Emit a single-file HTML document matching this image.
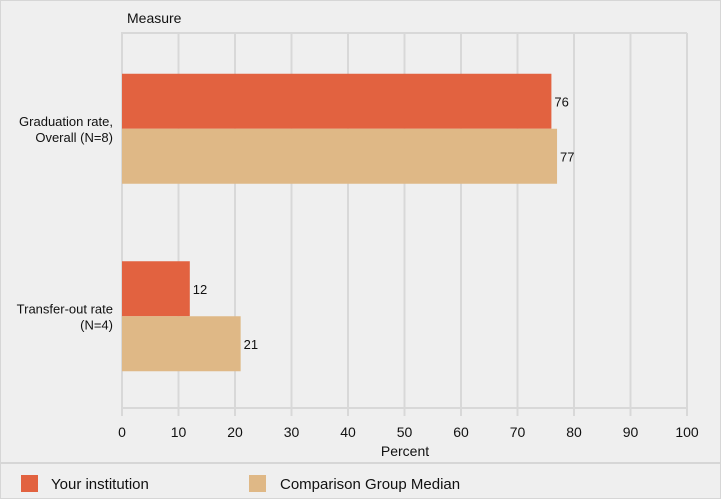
<!DOCTYPE html>
<html><head><meta charset="utf-8"><style>
body{margin:0;background:#efefef;font-family:"Liberation Sans",sans-serif;}
svg{display:block}
</style></head><body>
<svg width="721" height="499">
<rect x="0.5" y="0.5" width="720" height="498" fill="#efefef" stroke="#d6d6d6"/>
<text x="127" y="23" font-size="14" fill="#111">Measure</text>
<g id="grid"></g>
<g id="bars"></g>
<g id="ticks"></g>
<text x="405" y="456" font-size="14" text-anchor="middle" fill="#111">Percent</text>
<line x1="0" y1="463" x2="721" y2="463" stroke="#d6d6d6" stroke-width="2"/>
<g>
<rect x="21" y="475" width="17" height="17" fill="#e26240"/>
<text x="51" y="489" font-size="15" fill="#111">Your institution</text></g>
<g>
<rect x="249" y="475" width="17" height="17" fill="#dfb886"/>
<text x="280" y="489" font-size="15" fill="#111">Comparison Group Median</text></g>
</svg>
<script>
const categories=[["Graduation rate,","Overall (N=8)"],["Transfer-out rate","(N=4)"]];
const institution=[76,12];
const comparison=[77,21];
const tickValues=[0,10,20,30,40,50,60,70,80,90,100];
const NS="http://www.w3.org/2000/svg";
const x0=122,x1=687,plotTop=33,plotBottom=408;
const xs=v=>x0+(x1-x0)*v/100;
const bandH=(plotBottom-plotTop)/categories.length;
function mk(tag,attrs,parent){const e=document.createElementNS(NS,tag);for(const k in attrs)e.setAttribute(k,attrs[k]);parent.appendChild(e);return e;}
const grid=document.getElementById('grid'),bars=document.getElementById('bars'),ticks=document.getElementById('ticks');
tickValues.forEach(t=>{
 const l=mk('line',{x1:xs(t),x2:xs(t),y1:plotTop,y2:416,stroke:'#d8d8d8','stroke-width':2},grid);
 
 
 const tx=mk('text',{x:xs(t),y:437,'font-size':14,'text-anchor':'middle',fill:'#111'},ticks);
 tx.textContent=t;
 
 
});
const tl=mk('line',{x1:x0-1,x2:x1,y1:plotTop,y2:plotTop,stroke:'#d8d8d8','stroke-width':2},grid);


const bl=mk('line',{x1:x0-1,x2:x1,y1:plotBottom,y2:plotBottom,stroke:'#d8d8d8','stroke-width':2},grid);


const bh=55;
categories.forEach((c,i)=>{
 const cy=plotTop+bandH*i+bandH/2+2;
 [[institution[i],'#e26240',cy-bh],[comparison[i],'#dfb886',cy]].forEach(([v,col,y],j)=>{
  const r=mk('rect',{x:x0,y:y,width:xs(v)-x0,height:bh,fill:col},bars);
  
  
  const t=mk('text',{x:xs(v)+3,y:y+bh/2+5,'font-size':13,fill:'#111'},bars);
  t.textContent=v;
  
  
 });
 c.forEach((line,k)=>{
  const t=mk('text',{x:113,y:cy-3+k*16,'font-size':13,'text-anchor':'end',fill:'#111'},bars);
  t.textContent=line;
  
  
 });
});
</script>
</body></html>
